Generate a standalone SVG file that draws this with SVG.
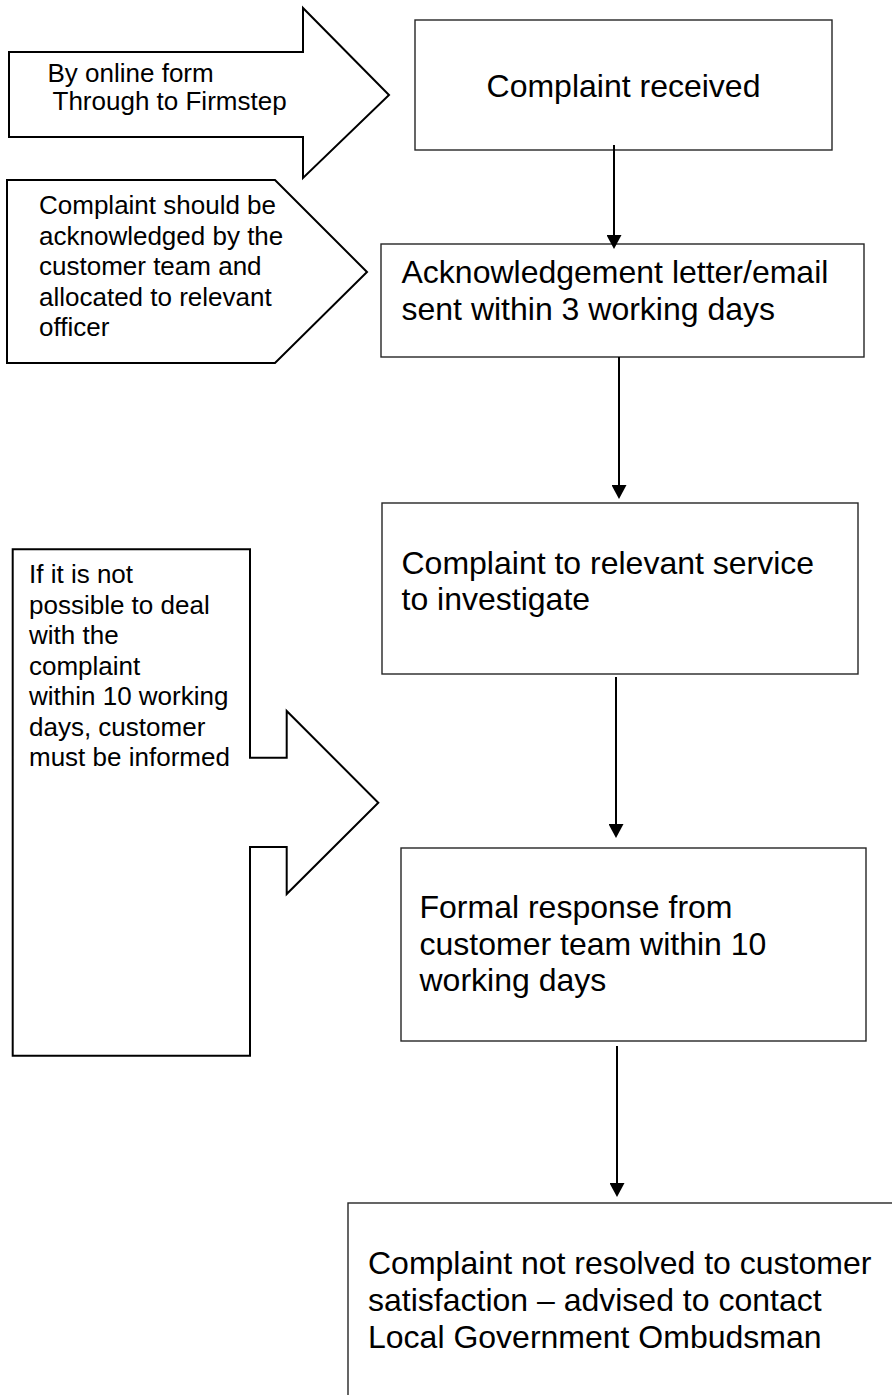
<svg xmlns="http://www.w3.org/2000/svg" width="892" height="1395" viewBox="0 0 892 1395">
<style>
.box{fill:#fff;stroke:#262626;stroke-width:1.4}
.call{fill:#fff;stroke:#000;stroke-width:2;stroke-linejoin:miter}
.big{font-family:"Liberation Sans",Arial,sans-serif;font-size:32px;fill:#000}
.small{font-family:"Liberation Sans",Arial,sans-serif;font-size:26px;fill:#000}
.conn{stroke:#000;stroke-width:2;fill:none}
</style>
<defs>
<marker id="ah" markerUnits="userSpaceOnUse" viewBox="0 0 14 15" markerWidth="14" markerHeight="15" refX="4" refY="7.5" orient="auto">
<path d="M0,0 L14,7.5 L0,15 Z" fill="#000"/>
</marker>
</defs>
<rect width="892" height="1395" fill="#fff"/>

<g id="callout-online">
<polygon class="call" points="9,52 303,52 303,8 389,95 303,178 303,137 9,137"/>
<text class="small" x="47.5" y="82">By online form</text>
<text class="small" x="52.5" y="110">Through to Firmstep</text>
</g>

<g id="callout-ack">
<polygon class="call" points="7,180 275,180 367,272 275,363 7,363"/>
<text class="small" x="39" y="214">Complaint should be</text>
<text class="small" x="39" y="244.5">acknowledged by the</text>
<text class="small" x="39" y="275">customer team and</text>
<text class="small" x="39" y="305.5">allocated to relevant</text>
<text class="small" x="39" y="336">officer</text>
</g>

<g id="callout-delay">
<polygon class="call" points="12.7,549.3 250,549.3 250,757.7 286.7,757.7 286.7,711 378.3,802.7 286.7,894 286.7,847 250,847 250,1055.7 12.7,1055.7"/>
<text class="small" x="29" y="583.3">If it is not</text>
<text class="small" x="29" y="613.8">possible to deal</text>
<text class="small" x="29" y="644.3">with the</text>
<text class="small" x="29" y="674.8">complaint</text>
<text class="small" x="29" y="705.3">within 10 working</text>
<text class="small" x="29" y="735.8">days, customer</text>
<text class="small" x="29" y="766.3">must be informed</text>
</g>

<g id="received">
<rect class="box" x="415" y="20" width="417" height="130"/>
<text class="big" x="623.5" y="97" text-anchor="middle">Complaint received</text>
</g>

<g id="acknowledgement">
<rect class="box" x="381" y="244" width="483" height="113"/>
<text class="big" x="401.5" y="283">Acknowledgement letter/email</text>
<text class="big" x="401.5" y="320">sent within 3 working days</text>
</g>

<g id="investigate">
<rect class="box" x="382" y="503" width="476" height="171"/>
<text class="big" x="401.5" y="574">Complaint to relevant service</text>
<text class="big" x="401.5" y="610">to investigate</text>
</g>

<g id="formal-response">
<rect class="box" x="401" y="848" width="465" height="193"/>
<text class="big" x="419.5" y="918">Formal response from</text>
<text class="big" x="419.5" y="955">customer team within 10</text>
<text class="big" x="419.5" y="991">working days</text>
</g>

<g id="ombudsman">
<rect class="box" x="348" y="1203" width="560" height="260"/>
<text class="big" x="368" y="1274">Complaint not resolved to customer</text>
<text class="big" x="368" y="1311">satisfaction – advised to contact</text>
<text class="big" x="368" y="1348">Local Government Ombudsman</text>
</g>

<g id="connectors">
<line class="conn" x1="614" y1="145" x2="614" y2="239" marker-end="url(#ah)"/>
<line class="conn" x1="619" y1="357" x2="619" y2="489" marker-end="url(#ah)"/>
<line class="conn" x1="616" y1="677" x2="616" y2="828" marker-end="url(#ah)"/>
<line class="conn" x1="617" y1="1046" x2="617" y2="1187" marker-end="url(#ah)"/>
</g>
</svg>
